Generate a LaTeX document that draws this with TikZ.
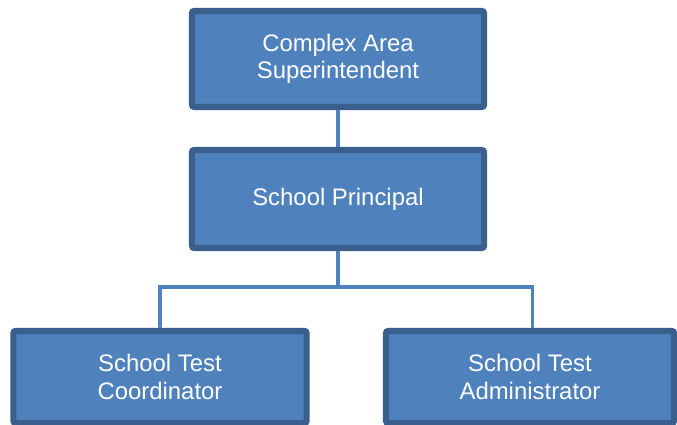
\documentclass[tikz,border=0pt]{standalone}
\usepackage{fontspec}
\setmainfont{Liberation Sans}
\definecolor{boxfill}{HTML}{4F81BD}
\definecolor{boxedge}{HTML}{3B5F8C}
\definecolor{linkblue}{HTML}{4F81BD}

\begin{document}
\begin{tikzpicture}[x=0.025cm, y=-0.025cm, thick,
    orgbox/.style={rectangle, draw=boxedge, fill=boxfill, line width=4.3pt,
        rounded corners=1.5pt, text=white, align=center,
        font=\fontsize{17}{19.5}\selectfont, inner sep=0pt},
    link/.style={draw=linkblue, line width=2.2pt}]
                \useasboundingbox (0,0) rectangle (677,425);

                % Define nodes
                \node[orgbox, minimum width=7.3cm, minimum height=2.4cm] (csa) at (338,59) {Complex Area\\Superintendent};
                \node[orgbox, minimum width=7.3cm, minimum height=2.45cm] (principal) at (338,199) {School Principal};
                \node[orgbox, minimum width=7.33cm, minimum height=2.3cm] (coord) at (160,377) {School Test\\Coordinator};
                \node[orgbox, minimum width=7.2cm, minimum height=2.3cm] (admin) at (530,377) {School Test\\Administrator};
                \coordinate (split) at (338,287);

                % Draw the links
                \draw[link] (csa) -- (principal);
                \draw[link] (principal) -- (split);
                \draw[link] (split) -| (coord);
                \draw[link] (split) -| ([xshift=2pt]admin.north);
            \end{tikzpicture}
\end{document}
